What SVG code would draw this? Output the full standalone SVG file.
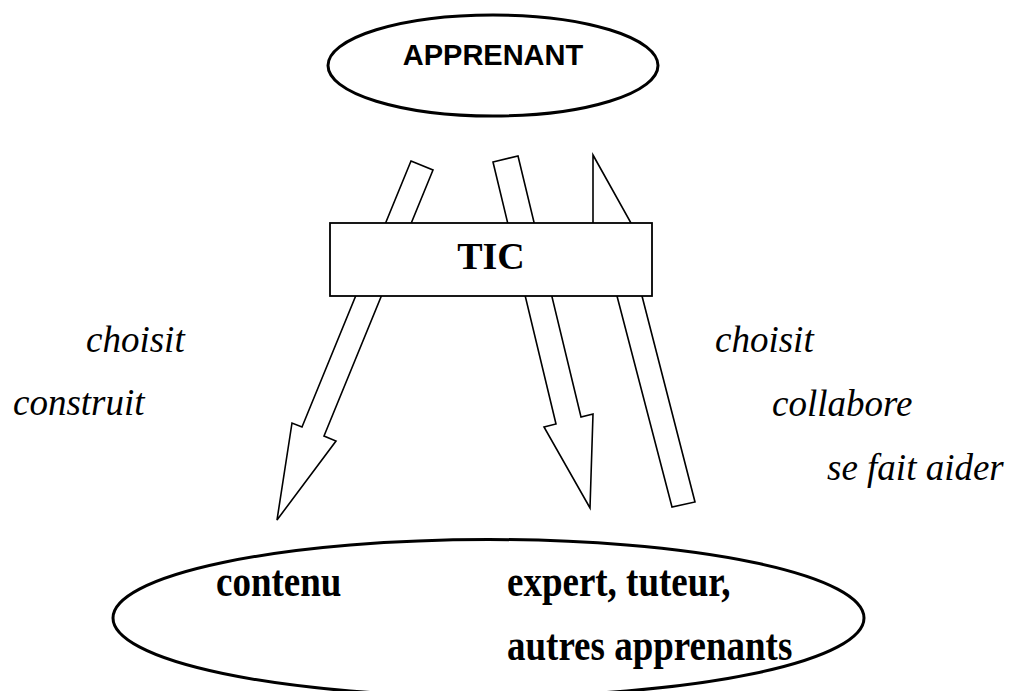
<svg xmlns="http://www.w3.org/2000/svg" width="1009" height="691" viewBox="0 0 1009 691">
<style>
.arrow{fill:#fff;stroke:#000;stroke-width:1.6;stroke-linejoin:miter}
.ell{fill:#fff;stroke:#000;stroke-width:3}
.box{fill:#fff;stroke:#000;stroke-width:1.8}
.lbl{font-family:"Liberation Serif","Times New Roman",serif;font-style:italic;font-size:37px;fill:#000}
.bold{font-family:"Liberation Serif","Times New Roman",serif;font-weight:bold;font-size:37px;fill:#000}
.sans{font-family:"Liberation Sans",Arial,sans-serif;font-weight:bold;font-size:29px;fill:#000}
</style>
<rect width="1009" height="691" fill="#fff"/>
<g id="connectors">
<polygon class="arrow" points="411,161 433,170 324,436 336,441 277,520 292,423 302,427"/>
<polygon class="arrow" points="493,162 518,156 581,417 593,414 590,508 544,427 556,424"/>
<polygon class="arrow" points="593,155 631,223 642,296 695,502 672,507 617,296 593,223"/>
</g>
<g id="apprenant">
<ellipse class="ell" cx="493" cy="65.5" rx="165" ry="50.5"/>
<text class="sans" x="493" y="65" text-anchor="middle">APPRENANT</text>
</g>
<g id="tic">
<rect class="box" x="330" y="223" width="322" height="73"/>
<text class="bold" x="491" y="269" text-anchor="middle" style="font-size:38px">TIC</text>
</g>
<g id="labels">
<text class="lbl" x="86" y="352">choisit</text>
<text class="lbl" x="13" y="415">construit</text>
<text class="lbl" x="715" y="352">choisit</text>
<text class="lbl" x="772" y="416">collabore</text>
<text class="lbl" x="827" y="480">se fait aider</text>
</g>
<g id="ressources">
<ellipse class="ell" cx="488.5" cy="618" rx="375.5" ry="78.5"/>
<text class="bold" transform="translate(216,596) scale(1,1.17)">contenu</text>
<text class="bold" transform="translate(507,596) scale(1,1.17)">expert, tuteur,</text>
<text class="bold" transform="translate(507,660) scale(1,1.17)">autres apprenants</text>
</g>
</svg>
